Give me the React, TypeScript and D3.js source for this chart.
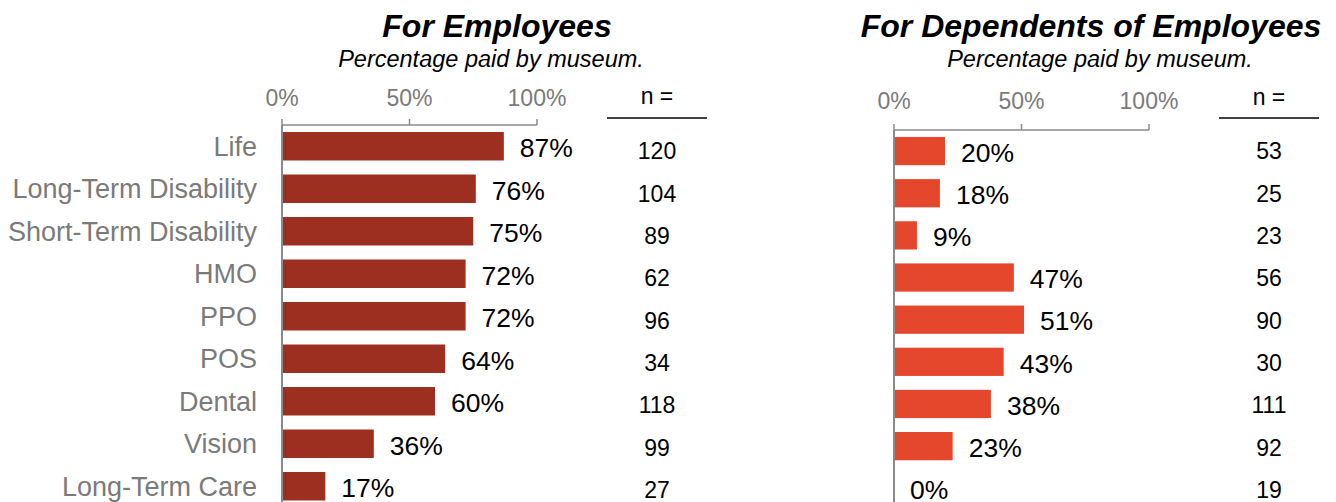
import React from "react";
import * as d3 from "d3";

const categories = [
  "Life",
  "Long-Term Disability",
  "Short-Term Disability",
  "HMO",
  "PPO",
  "POS",
  "Dental",
  "Vision",
  "Long-Term Care",
];
const employeePct = [87, 76, 75, 72, 72, 64, 60, 36, 17];
const employeeN = [120, 104, 89, 62, 96, 34, 118, 99, 27];
const dependentPct = [20, 18, 9, 47, 51, 43, 38, 23, 0];
const dependentN = [53, 25, 23, 56, 90, 30, 111, 92, 19];
const tickValues = [0, 50, 100];

const FONT = "'Liberation Sans', Arial, Helvetica, sans-serif";
const GRAY = "#7a7a7a";
const AXIS = "#8a8a8a";

const nScale = d3
  .scaleBand<string>()
  .domain(categories)
  .range([130, 130 + categories.length * 42.35])
  .paddingInner(0.33)
  .paddingOuter(0.165);

type PanelProps = {
  values: number[];
  ns: number[];
  x0: number;
  axisY: number;
  step: number;
  color: string;
  nCenter: number;
  nLineY: number;
  tickLabelY: number;
  nLabelY: number;
  title: string;
  titleX: number;
  subtitleX: number;
  showCategories: boolean;
};

function Panel(p: PanelProps) {
  const x = d3.scaleLinear().domain([0, 100]).range([p.x0, p.x0 + 255]);
  const y = d3
    .scaleBand<string>()
    .domain(categories)
    .range([p.axisY, p.axisY + categories.length * p.step])
    .paddingInner(0.33)
    .paddingOuter(0.165);
  const bw = y.bandwidth();
  const nbw = nScale.bandwidth();
  return (
    <g>
      <text
        x={p.titleX}
        y={37}
        textAnchor="middle"
        fontFamily={FONT}
        fontSize={32}
        fontWeight="bold"
        fontStyle="italic"
        fill="#000"
      >
        {p.title}
      </text>
      <text
        x={p.subtitleX}
        y={67}
        textAnchor="middle"
        fontFamily={FONT}
        fontSize={23.5}
        fontStyle="italic"
        fill="#000"
      >
        Percentage paid by museum.
      </text>
      {tickValues.map((t) => (
        <g key={t}>
          <text
            x={x(t)}
            y={p.tickLabelY}
            textAnchor="middle"
            fontFamily={FONT}
            fontSize={23}
            fill={GRAY}
          >
            {t}%
          </text>
          <line x1={x(t)} x2={x(t)} y1={p.axisY - 6} y2={p.axisY} stroke={AXIS} strokeWidth={1.5} />
        </g>
      ))}
      <line x1={x(0)} x2={x(100)} y1={p.axisY} y2={p.axisY} stroke={AXIS} strokeWidth={1.5} />
      {categories.map((c, i) => {
        const yc = (y(c) as number) + bw / 2;
        const nc = (nScale(c) as number) + nbw / 2;
        const v = p.values[i];
        return (
          <g key={c}>
            {p.showCategories && (
              <text
                x={x(0) - 25}
                y={yc}
                dy="0.35em"
                textAnchor="end"
                fontFamily={FONT}
                fontSize={27}
                fill={GRAY}
              >
                {c}
              </text>
            )}
            {v > 0 && (
              <rect x={x(0)} y={y(c)} width={x(v) - x(0)} height={bw} fill={p.color} />
            )}
            <text
              x={x(v) + 16}
              y={yc + 1.5}
              dy="0.35em"
              fontFamily={FONT}
              fontSize={26.5}
              fill="#000"
            >
              {v}%
            </text>
            <text
              x={p.nCenter}
              y={nc}
              dy="0.35em"
              textAnchor="middle"
              fontFamily={FONT}
              fontSize={23}
              fill="#000"
            >
              {p.ns[i]}
            </text>
          </g>
        );
      })}
      <line x1={x(0)} x2={x(0)} y1={p.axisY} y2={520} stroke={AXIS} strokeWidth={2} />
      <text
        x={p.nCenter}
        y={p.nLabelY}
        textAnchor="middle"
        fontFamily={FONT}
        fontSize={23}
        fill="#000"
      >
        n =
      </text>
      <line
        x1={p.nCenter - 50}
        x2={p.nCenter + 50}
        y1={p.nLineY}
        y2={p.nLineY}
        stroke="#000"
        strokeWidth={1.5}
      />
    </g>
  );
}

export default function App() {
  return (
    <svg
      width={1336}
      height={502}
      style={{ position: "absolute", left: 0, top: 0, background: "#fff" }}
    >
      <Panel
        values={employeePct}
        ns={employeeN}
        x0={282}
        axisY={125}
        step={42.5}
        color="#9d2f20"
        nCenter={657}
        nLineY={118}
        tickLabelY={106}
        nLabelY={104}
        title="For Employees"
        titleX={497}
        subtitleX={491}
        showCategories={true}
      />
      <Panel
        values={dependentPct}
        ns={dependentN}
        x0={894}
        axisY={130}
        step={42.15}
        color="#e5472d"
        nCenter={1269}
        nLineY={118}
        tickLabelY={109}
        nLabelY={105}
        title="For Dependents of Employees"
        titleX={1091}
        subtitleX={1100}
        showCategories={false}
      />
    </svg>
  );
}
